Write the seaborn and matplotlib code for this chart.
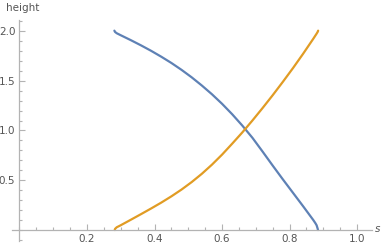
import pandas as pd
import seaborn as sns
import matplotlib.pyplot as plt
from matplotlib.ticker import MultipleLocator, FixedLocator

# values
blue_s = [0.281, 0.283, 0.288, 0.298, 0.330, 0.360, 0.390, 0.420, 0.450, 0.480, 0.510, 0.540, 0.570,
          0.600, 0.630, 0.660, 0.690, 0.720, 0.750, 0.780, 0.810, 0.840, 0.870, 0.876, 0.880, 0.883, 0.884]
blue_h = [2.003, 1.990, 1.977, 1.960, 1.907, 1.855, 1.800, 1.741, 1.678, 1.609, 1.534, 1.452, 1.364,
          1.268, 1.163, 1.049, 0.926, 0.788, 0.647, 0.509, 0.374, 0.239, 0.101, 0.071, 0.048, 0.015, 0.000]
orange_s = [0.282, 0.283, 0.288, 0.298, 0.330, 0.360, 0.390, 0.420, 0.450, 0.480, 0.510, 0.540, 0.570,
            0.600, 0.630, 0.660, 0.690, 0.720, 0.750, 0.780, 0.810, 0.840, 0.870, 0.880, 0.883, 0.8845]
orange_h = [0.000, 0.012, 0.028, 0.045, 0.104, 0.160, 0.217, 0.276, 0.339, 0.407, 0.482, 0.565, 0.657,
            0.758, 0.868, 0.981, 1.101, 1.226, 1.355, 1.489, 1.627, 1.771, 1.921, 1.973, 1.990, 2.003]

sns.set_style("white")
plt.rcParams['font.family'] = ['DejaVu Sans']

df = pd.concat([
    pd.DataFrame({'s': blue_s, 'height': blue_h, 'curve': 'a'}),
    pd.DataFrame({'s': orange_s, 'height': orange_h, 'curve': 'b'}),
])

fig = plt.figure(figsize=(3.83, 2.48), dpi=100)
ax = fig.add_axes([12 / 383, 7 / 248, 360 / 383, 221 / 248])

sns.lineplot(data=df, x='s', y='height', hue='curve', sort=False,
             palette=['#5e81b5', '#e19c24'], linewidth=1.6, legend=False, ax=ax)

ax.set_xlim(-0.0222, 1.044)
ax.set_ylim(-0.11, 2.11)

grey = '#b3b3b3'
for side in ['top', 'right']:
    ax.spines[side].set_visible(False)
for side in ['left', 'bottom']:
    ax.spines[side].set_position(('data', 0))
    ax.spines[side].set_color(grey)
    ax.spines[side].set_linewidth(0.9)

ax.xaxis.set_major_locator(FixedLocator([0.2, 0.4, 0.6, 0.8, 1.0]))
ax.xaxis.set_minor_locator(MultipleLocator(0.05))
ax.yaxis.set_major_locator(FixedLocator([0.5, 1.0, 1.5, 2.0]))
ax.yaxis.set_minor_locator(MultipleLocator(0.1))
ax.tick_params(which='both', direction='in', bottom=True, left=True,
               color=grey, labelcolor='#555555', labelsize=7.5, width=0.8, pad=3)
ax.tick_params(which='major', length=4)
ax.tick_params(which='minor', length=2.2)
ax.set_xticklabels(['0.2', '0.4', '0.6', '0.8', '1.0'])
ax.set_yticklabels(['0.5', '1.0', '1.5', '2.0'])

ax.set_xlabel('')
ax.set_ylabel('')
fig.text(378 / 383, 1 - 229 / 248, 's', style='italic', color='#555555',
         fontsize=7.5, ha='center', va='center')
fig.text(23 / 383, 1 - 8 / 248, 'height', color='#555555',
         fontsize=7.5, ha='center', va='center')

fig.savefig('out.png', dpi=100)
